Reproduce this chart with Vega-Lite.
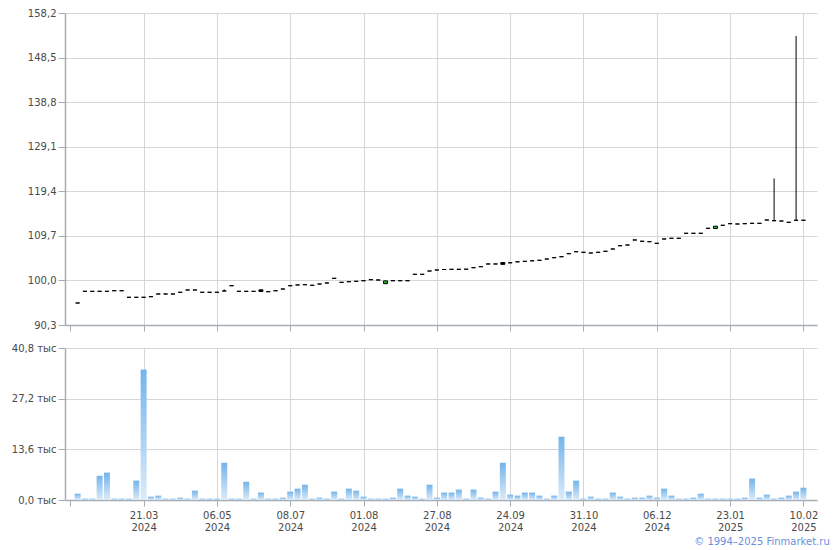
{
  "$schema": "https://vega.github.io/schema/vega-lite/v6.json",
  "background": "#ffffff",
  "padding": {"left": 11, "top": 8, "right": 0, "bottom": 0},
  "config": {
    "font": "DejaVu Sans",
    "view": {"stroke": null},
    "axis": {
      "labelFont": "DejaVu Sans",
      "labelFontSize": 10,
      "labelColor": "#4a4a4a",
      "gridColor": {"condition": {"test": "datum.value < 0", "value": "transparent"}, "value": "#d2d7dc"},
      "gridWidth": 1,
      "domainColor": "#a6adb5",
      "domainWidth": 1.5,
      "tickColor": "#a6adb5",
      "tickWidth": 1,
      "title": null
    }
  },
  "title": {
    "text": "© 1994–2025 Finmarket.ru",
    "orient": "bottom",
    "anchor": "end",
    "color": "#6a8fdd",
    "fontSize": 10,
    "fontWeight": "normal",
    "font": "DejaVu Sans",
    "offset": 5,
    "dx": 12
  },
  "data": {
    "values": [
      {"i":0,"o":95.09,"h":95.09,"l":95.09,"c":95.09,"v":1.7},
      {"i":1,"o":97.63,"h":97.63,"l":97.63,"c":97.63,"v":0.35},
      {"i":2,"o":97.63,"h":97.63,"l":97.63,"c":97.63,"v":0.35},
      {"i":3,"o":97.63,"h":97.63,"l":97.63,"c":97.63,"v":6.5},
      {"i":4,"o":97.63,"h":97.63,"l":97.63,"c":97.63,"v":7.35},
      {"i":5,"o":97.76,"h":97.76,"l":97.76,"c":97.76,"v":0.35},
      {"i":6,"o":97.76,"h":97.76,"l":97.76,"c":97.76,"v":0.35},
      {"i":7,"o":96.33,"h":96.33,"l":96.33,"c":96.33,"v":0.35},
      {"i":8,"o":96.33,"h":96.33,"l":96.33,"c":96.33,"v":5.2},
      {"i":9,"o":96.33,"h":96.33,"l":96.33,"c":96.33,"v":35.0},
      {"i":10,"o":96.46,"h":96.46,"l":96.46,"c":96.46,"v":0.9},
      {"i":11,"o":97.05,"h":97.05,"l":97.05,"c":97.05,"v":1.17},
      {"i":12,"o":97.05,"h":97.05,"l":97.05,"c":97.05,"v":0.35},
      {"i":13,"o":97.05,"h":97.05,"l":97.05,"c":97.05,"v":0.35},
      {"i":14,"o":97.42,"h":97.42,"l":97.42,"c":97.42,"v":0.63},
      {"i":15,"o":97.92,"h":97.92,"l":97.92,"c":97.92,"v":0.35},
      {"i":16,"o":97.92,"h":97.92,"l":97.92,"c":97.92,"v":2.5},
      {"i":17,"o":97.42,"h":97.42,"l":97.42,"c":97.42,"v":0.35},
      {"i":18,"o":97.42,"h":97.42,"l":97.42,"c":97.42,"v":0.35},
      {"i":19,"o":97.42,"h":97.42,"l":97.42,"c":97.42,"v":0.35},
      {"i":20,"o":97.70,"h":98.05,"l":97.70,"c":97.70,"v":10.0},
      {"i":21,"o":98.85,"h":98.85,"l":98.85,"c":98.85,"v":0.35},
      {"i":22,"o":97.63,"h":97.63,"l":97.63,"c":97.63,"v":0.35},
      {"i":23,"o":97.63,"h":97.63,"l":97.63,"c":97.63,"v":4.9},
      {"i":24,"o":97.63,"h":97.63,"l":97.63,"c":97.63,"v":0.35},
      {"i":25,"o":97.95,"h":97.95,"l":97.6,"c":97.6,"v":2.0},
      {"i":26,"o":97.55,"h":97.55,"l":97.55,"c":97.55,"v":0.35},
      {"i":27,"o":97.76,"h":97.76,"l":97.76,"c":97.76,"v":0.35},
      {"i":28,"o":98.13,"h":98.13,"l":98.13,"c":98.13,"v":0.63},
      {"i":29,"o":98.85,"h":98.85,"l":98.85,"c":98.85,"v":2.25},
      {"i":30,"o":99.01,"h":99.01,"l":99.01,"c":99.01,"v":3.05},
      {"i":31,"o":99.07,"h":99.07,"l":99.07,"c":99.07,"v":4.1},
      {"i":32,"o":98.94,"h":98.94,"l":98.94,"c":98.94,"v":0.35},
      {"i":33,"o":99.22,"h":99.22,"l":99.22,"c":99.22,"v":0.63},
      {"i":34,"o":99.44,"h":99.44,"l":99.44,"c":99.44,"v":0.35},
      {"i":35,"o":100.46,"h":100.46,"l":100.46,"c":100.46,"v":2.25},
      {"i":36,"o":99.59,"h":99.59,"l":99.59,"c":99.59,"v":0.35},
      {"i":37,"o":99.72,"h":99.72,"l":99.72,"c":99.72,"v":3.05},
      {"i":38,"o":99.81,"h":99.81,"l":99.81,"c":99.81,"v":2.5},
      {"i":39,"o":99.94,"h":99.94,"l":99.94,"c":99.94,"v":0.9},
      {"i":40,"o":100.16,"h":100.16,"l":100.16,"c":100.16,"v":0.35},
      {"i":41,"o":100.09,"h":100.09,"l":100.09,"c":100.09,"v":0.35},
      {"i":42,"o":99.3,"h":99.9,"l":99.3,"c":99.9,"v":0.35},
      {"i":43,"o":99.94,"h":99.94,"l":99.94,"c":99.94,"v":0.63},
      {"i":44,"o":99.94,"h":99.94,"l":99.94,"c":99.94,"v":3.05},
      {"i":45,"o":99.94,"h":99.94,"l":99.94,"c":99.94,"v":1.17},
      {"i":46,"o":101.33,"h":101.33,"l":101.33,"c":101.33,"v":0.9},
      {"i":47,"o":101.33,"h":101.33,"l":101.33,"c":101.33,"v":0.35},
      {"i":48,"o":102.05,"h":102.05,"l":102.05,"c":102.05,"v":4.1},
      {"i":49,"o":102.27,"h":102.27,"l":102.27,"c":102.27,"v":0.63},
      {"i":50,"o":102.38,"h":102.38,"l":102.38,"c":102.38,"v":2.0},
      {"i":51,"o":102.42,"h":102.42,"l":102.42,"c":102.42,"v":2.0},
      {"i":52,"o":102.42,"h":102.42,"l":102.42,"c":102.42,"v":2.8},
      {"i":53,"o":102.44,"h":102.44,"l":102.44,"c":102.44,"v":0.35},
      {"i":54,"o":102.77,"h":102.77,"l":102.77,"c":102.77,"v":2.8},
      {"i":55,"o":102.99,"h":102.99,"l":102.99,"c":102.99,"v":0.63},
      {"i":56,"o":103.58,"h":103.58,"l":103.58,"c":103.58,"v":0.35},
      {"i":57,"o":103.58,"h":103.58,"l":103.58,"c":103.58,"v":2.25},
      {"i":58,"o":103.9,"h":103.9,"l":103.5,"c":103.5,"v":10.0},
      {"i":59,"o":103.84,"h":103.84,"l":103.84,"c":103.84,"v":1.45},
      {"i":60,"o":104.05,"h":104.05,"l":104.05,"c":104.05,"v":1.17},
      {"i":61,"o":104.16,"h":104.16,"l":104.16,"c":104.16,"v":2.0},
      {"i":62,"o":104.27,"h":104.27,"l":104.27,"c":104.27,"v":2.0},
      {"i":63,"o":104.38,"h":104.38,"l":104.38,"c":104.38,"v":1.17},
      {"i":64,"o":104.66,"h":104.66,"l":104.66,"c":104.66,"v":0.35},
      {"i":65,"o":104.95,"h":104.95,"l":104.95,"c":104.95,"v":1.17},
      {"i":66,"o":105.16,"h":105.16,"l":105.16,"c":105.16,"v":17.0},
      {"i":67,"o":105.82,"h":105.82,"l":105.82,"c":105.82,"v":2.25},
      {"i":68,"o":106.25,"h":106.25,"l":106.25,"c":106.25,"v":5.2},
      {"i":69,"o":106.12,"h":106.12,"l":106.12,"c":106.12,"v":0.35},
      {"i":70,"o":105.97,"h":105.97,"l":105.97,"c":105.97,"v":0.9},
      {"i":71,"o":106.12,"h":106.12,"l":106.12,"c":106.12,"v":0.35},
      {"i":72,"o":106.34,"h":106.34,"l":106.34,"c":106.34,"v":0.35},
      {"i":73,"o":106.84,"h":106.84,"l":106.84,"c":106.84,"v":2.0},
      {"i":74,"o":107.56,"h":107.56,"l":107.56,"c":107.56,"v":0.9},
      {"i":75,"o":107.71,"h":107.71,"l":107.71,"c":107.71,"v":0.35},
      {"i":76,"o":108.80,"h":108.80,"l":108.80,"c":108.80,"v":0.63},
      {"i":77,"o":108.52,"h":108.52,"l":108.52,"c":108.52,"v":0.63},
      {"i":78,"o":108.43,"h":108.43,"l":108.43,"c":108.43,"v":1.17},
      {"i":79,"o":108.08,"h":108.08,"l":108.08,"c":108.08,"v":0.63},
      {"i":80,"o":109.02,"h":109.02,"l":109.02,"c":109.02,"v":3.05},
      {"i":81,"o":109.17,"h":109.17,"l":109.17,"c":109.17,"v":1.17},
      {"i":82,"o":109.17,"h":109.17,"l":109.17,"c":109.17,"v":0.35},
      {"i":83,"o":110.26,"h":110.26,"l":110.26,"c":110.26,"v":0.35},
      {"i":84,"o":110.26,"h":110.26,"l":110.26,"c":110.26,"v":0.63},
      {"i":85,"o":110.26,"h":110.26,"l":110.26,"c":110.26,"v":1.7},
      {"i":86,"o":111.34,"h":111.34,"l":111.34,"c":111.34,"v":0.35},
      {"i":87,"o":111.3,"h":111.8,"l":111.3,"c":111.8,"v":0.35},
      {"i":88,"o":112.0,"h":112.0,"l":112.0,"c":112.0,"v":0.35},
      {"i":89,"o":112.35,"h":112.35,"l":112.35,"c":112.35,"v":0.35},
      {"i":90,"o":112.28,"h":112.28,"l":112.28,"c":112.28,"v":0.35},
      {"i":91,"o":112.35,"h":112.35,"l":112.35,"c":112.35,"v":0.63},
      {"i":92,"o":112.43,"h":112.43,"l":112.43,"c":112.43,"v":5.75},
      {"i":93,"o":112.43,"h":112.43,"l":112.43,"c":112.43,"v":0.63},
      {"i":94,"o":113.15,"h":113.15,"l":113.15,"c":113.15,"v":1.45},
      {"i":95,"o":113.0,"h":122.2,"l":113.0,"c":113.0,"v":0.35},
      {"i":96,"o":112.93,"h":112.93,"l":112.93,"c":112.93,"v":0.63},
      {"i":97,"o":112.65,"h":112.65,"l":112.65,"c":112.65,"v":1.17},
      {"i":98,"o":113.09,"h":153.2,"l":113.09,"c":113.09,"v":2.25},
      {"i":99,"o":113.09,"h":113.09,"l":113.09,"c":113.09,"v":3.3}
    ]
  },
  "vconcat": [
    {
      "width": 752,
      "height": 312,
      "encoding": {
        "x": {
          "field": "i",
          "type": "quantitative",
          "scale": {"domain": [-1.04, 100.17], "nice": false, "zero": false},
          "axis": {
            "values": [-1.04, 9, 19, 29, 39, 49, 59, 69, 79, 89, 99],
            "labels": false,
            "grid": true,
            "tickSize": 6
          }
        }
      },
      "layer": [
        {
          "mark": {"type": "rule", "color": "#000000", "strokeWidth": 1},
          "encoding": {
            "y": {
              "field": "l",
              "type": "quantitative",
              "scale": {"domain": [90.3, 158.2], "nice": false, "zero": false},
              "axis": {
                "values": [90.3, 100.0, 109.7, 119.4, 129.1, 138.8, 148.5, 158.2],
                "labelExpr": "replace(format(datum.value, '.1f'), '.', ',')",
                "tickSize": 7,
                "labelPadding": 2,
                "grid": true
              }
            },
            "y2": {"field": "h"}
          }
        },
        {
          "mark": {"type": "bar", "size": 4, "stroke": "#000000", "strokeWidth": 1},
          "encoding": {
            "y": {"field": "o", "type": "quantitative"},
            "y2": {"field": "c"},
            "fill": {
              "condition": [
                {"test": "datum.c > datum.o", "value": "#22c422"},
                {"test": "datum.c < datum.o", "value": "#000000"}
              ],
              "value": "#ffffff"
            }
          }
        }
      ]
    },
    {
      "width": 752,
      "height": 152,
      "mark": {
        "type": "bar",
        "size": 6,
        "color": {
          "gradient": "linear",
          "x1": 0, "y1": 0, "x2": 0, "y2": 1,
          "stops": [
            {"offset": 0, "color": "#74b4ea"},
            {"offset": 1, "color": "#dcebf9"}
          ]
        }
      },
      "encoding": {
        "x": {
          "field": "i",
          "type": "quantitative",
          "scale": {"domain": [-1.04, 100.17], "nice": false, "zero": false},
          "axis": {
            "values": [-1.04, 9, 19, 29, 39, 49, 59, 69, 79, 89, 99],
            "grid": true,
            "tickSize": 6,
            "labelPadding": 4,
            "labelLineHeight": 12,
            "labelFlush": false,
            "labelOverlap": false,
            "labelExpr": "datum.value < 0 ? '' : [['21.03','2024'],['06.05','2024'],['08.07','2024'],['01.08','2024'],['27.08','2024'],['24.09','2024'],['31.10','2024'],['06.12','2024'],['23.01','2025'],['10.02','2025']][round((datum.value - 9) / 10)]"
          }
        },
        "y": {
          "field": "v",
          "type": "quantitative",
          "scale": {"domain": [0, 40.8], "nice": false},
          "axis": {
            "values": [0, 13.6, 27.2, 40.8],
            "labelExpr": "replace(format(datum.value, '.1f'), '.', ',') + ' тыс'",
            "tickSize": 7,
            "labelPadding": 2,
            "grid": true
          }
        }
      }
    }
  ],
  "spacing": 23,
  "bounds": "flush"
}
